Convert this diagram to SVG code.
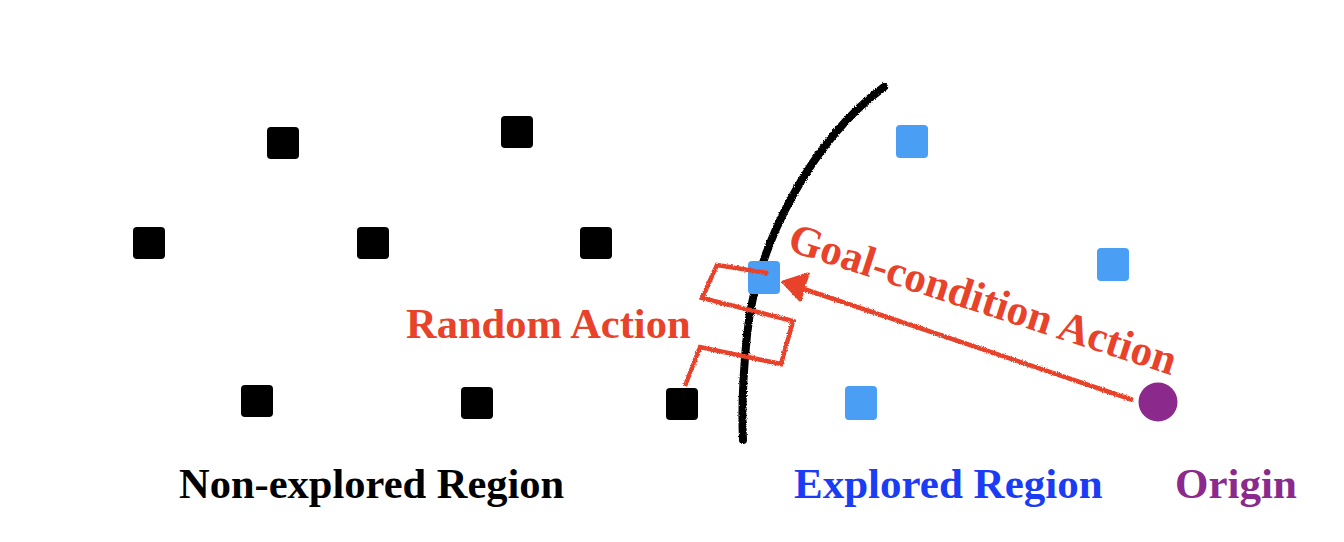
<svg xmlns="http://www.w3.org/2000/svg" width="1344" height="542" viewBox="0 0 1344 542">
<style>
.blk{fill:#000}
.blu{fill:#4A9FF5}
.lbl{font-family:"Liberation Serif","Times New Roman",serif;font-weight:bold;font-size:42.5px}
.big{font-size:43px}
.red{fill:#E8432A}
.rough{filter:url(#rough)}
</style>
<defs>
<filter id="rough" x="-10%" y="-10%" width="120%" height="120%">
<feTurbulence type="fractalNoise" baseFrequency="0.9" numOctaves="2" seed="3" result="n"/>
<feDisplacementMap in="SourceGraphic" in2="n" scale="3" xChannelSelector="R" yChannelSelector="G"/>
</filter>
</defs>
<rect width="1344" height="542" fill="#fff"/>
<g id="boundary">
<path class="rough" d="M884,87 C812,140 756,245 747,335 C742,385 742,420 743,440" fill="none" stroke="#000" stroke-width="8" stroke-linecap="round"/>
</g>
<g id="nodes-nonexplored">
<rect id="n1" class="blk" x="267" y="127" width="32" height="32" rx="4"/>
<rect id="n2" class="blk" x="501" y="116" width="32" height="32" rx="4"/>
<rect id="n3" class="blk" x="133" y="227" width="32" height="32" rx="4"/>
<rect id="n4" class="blk" x="357" y="227" width="32" height="32" rx="4"/>
<rect id="n5" class="blk" x="580" y="227" width="32" height="32" rx="4"/>
<rect id="n6" class="blk" x="241" y="385" width="32" height="32" rx="4"/>
<rect id="n7" class="blk" x="461" y="387" width="32" height="32" rx="4"/>
<rect id="n8" class="blk" x="666" y="388" width="32" height="32" rx="4"/>
</g>
<g id="nodes-explored">
<rect id="e1" class="blu" x="896" y="125" width="32" height="33" rx="4"/>
<rect id="e2" class="blu" x="1097" y="248" width="32" height="33" rx="4"/>
<rect id="e3" class="blu" x="748" y="261" width="32" height="33" rx="4"/>
<rect id="e4" class="blu" x="845" y="386" width="32" height="34" rx="4"/>
</g>
<g id="origin">
<circle cx="1158" cy="402" r="19.5" fill="#8B2A8C"/>
</g>
<g id="connectors">
<path class="rough" d="M685,386 L700,347 L781,364 L793,321 L702,298 L717,265 L768,273" fill="none" stroke="#E8432A" stroke-width="4.5" stroke-linejoin="miter"/>
<line class="rough" x1="1133" y1="400" x2="795" y2="286" stroke="#E8432A" stroke-width="4.5"/>
<polygon class="rough red" points="783,282 808,274 800,300" stroke="#E8432A" stroke-width="3" stroke-linejoin="round"/>
</g>
<g id="labels">
<text class="lbl red" x="406" y="338">Random Action</text>
<text class="lbl big red" transform="translate(786,250) rotate(18)">Goal-condition Action</text>
<text class="lbl" x="179" y="498" fill="#000">Non-explored Region</text>
<text class="lbl big" x="794" y="498" fill="#1A3CF5">Explored Region</text>
<text class="lbl big" x="1175" y="498" fill="#8B2A8C">Origin</text>
</g>
</svg>
